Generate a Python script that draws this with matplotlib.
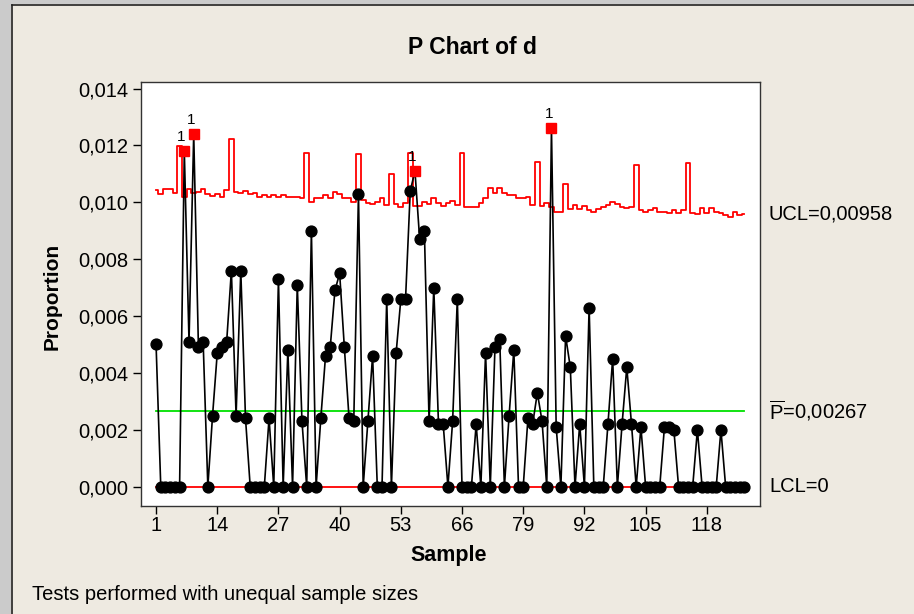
import numpy as np
import matplotlib
matplotlib.use('Agg')
import matplotlib.pyplot as plt
from matplotlib.ticker import FuncFormatter
from matplotlib.patches import Rectangle
from matplotlib.lines import Line2D
import matplotlib.transforms as mtransforms

# sample proportions (samples 1..126)
proportion = [
    0.0050, 0, 0, 0, 0, 0, 0.0118, 0.0051, 0.0124, 0.0049,
    0.0051, 0, 0.0025, 0.0047, 0.0049, 0.0051, 0.0076, 0.0025, 0.0076, 0.0024,
    0, 0, 0, 0, 0.0024, 0, 0.0073, 0, 0.0048, 0,
    0.0071, 0.0023, 0, 0.0090, 0, 0.0024, 0.0046, 0.0049, 0.0069, 0.0075,
    0.0049, 0.0024, 0.0023, 0.0103, 0, 0.0023, 0.0046, 0, 0, 0.0066,
    0, 0.0047, 0.0066, 0.0066, 0.0104, 0.0111, 0.0087, 0.0090, 0.0023, 0.0070,
    0.0022, 0.0022, 0, 0.0023, 0.0066, 0, 0, 0, 0.0022, 0,
    0.0047, 0, 0.0049, 0.0052, 0, 0.0025, 0.0048, 0, 0, 0.0024,
    0.0022, 0.0033, 0.0023, 0, 0.0126, 0.0021, 0, 0.0053, 0.0042, 0,
    0.0022, 0, 0.0063, 0, 0, 0, 0.0022, 0.0045, 0, 0.0022,
    0.0042, 0.0022, 0, 0.0021, 0, 0, 0, 0, 0.0021, 0.0021,
    0.0020, 0, 0, 0, 0, 0.0020, 0, 0, 0, 0,
    0.0020, 0, 0, 0, 0, 0,
]

# upper control limit per sample (unequal sample sizes -> stepped limit)
ucl = [
    0.01043, 0.01029, 0.01048, 0.01048, 0.01031, 0.01199, 0.01017, 0.01048, 0.01031, 0.01037,
    0.01048, 0.01029, 0.01022, 0.01029, 0.01019, 0.01043, 0.01221, 0.01036, 0.01031, 0.01040,
    0.01029, 0.01031, 0.01019, 0.01024, 0.01019, 0.01027, 0.01019, 0.01024, 0.01017, 0.01019,
    0.01019, 0.01015, 0.01172, 0.01001, 0.01014, 0.01014, 0.01025, 0.01014, 0.01035, 0.01029,
    0.01014, 0.01014, 0.01002, 0.01170, 0.01008, 0.00996, 0.00994, 0.01002, 0.01014, 0.00990,
    0.01101, 0.00994, 0.00982, 0.00996, 0.01174, 0.00987, 0.00987, 0.01002, 0.00994, 0.01014,
    0.00996, 0.00987, 0.00996, 0.01005, 0.00990, 0.01174, 0.00984, 0.00984, 0.00984, 0.00996,
    0.01016, 0.01049, 0.01033, 0.01049, 0.01033, 0.01025, 0.01025, 0.01014, 0.01014, 0.01017,
    0.00990, 0.01142, 0.00987, 0.00996, 0.00984, 0.00967, 0.00967, 0.01063, 0.00975, 0.00990,
    0.00975, 0.00987, 0.00973, 0.00967, 0.00975, 0.00984, 0.00990, 0.01002, 0.00994, 0.00984,
    0.00979, 0.00984, 0.01131, 0.00973, 0.00967, 0.00973, 0.00979, 0.00967, 0.00967, 0.00961,
    0.00973, 0.00961, 0.00973, 0.01137, 0.00961, 0.00958, 0.00979, 0.00961, 0.00979, 0.00965,
    0.00961, 0.00955, 0.00949, 0.00967, 0.00955, 0.00958,
]

p_bar = 0.00267
lcl = 0.0
ucl_label = 'UCL=0,00958'
pbar_label = r'$\overline{\mathrm{P}}$=0,00267'
lcl_label = 'LCL=0'

x_ticks = [1, 14, 27, 40, 53, 66, 79, 92, 105, 118]
y_ticks = [0.000, 0.002, 0.004, 0.006, 0.008, 0.010, 0.012, 0.014]

FONT = 'Liberation Sans'
BG = '#eeeae1'


def comma_fmt(v, pos):
    # Minitab with a european locale -> comma decimals
    return f'{v:.3f}'.replace('.', ',')


def plot_p_chart():
    plt.rcParams['font.family'] = FONT
    plt.rcParams['mathtext.fontset'] = 'custom'
    plt.rcParams['mathtext.rm'] = FONT

    samples = np.arange(1, len(proportion) + 1)
    p = np.array(proportion)
    limit = np.array(ucl)
    out = p > limit

    fig = plt.figure(figsize=(9.14, 6.14), dpi=100, facecolor=BG)

    # window-ish frame on the left / top
    fig.patches.append(Rectangle((0, 0), 11 / 914, 1, transform=fig.transFigure,
                                 facecolor='#cbcbcb', edgecolor='none', zorder=0))
    fig.patches.append(Rectangle((0, 1 - 4 / 614), 1, 4 / 614, transform=fig.transFigure,
                                 facecolor='#cbcbcb', edgecolor='none', zorder=0))
    fig.lines.append(Line2D([11.5 / 914, 11.5 / 914], [0, 1 - 4.5 / 614],
                            transform=fig.transFigure, color='#222222', lw=1.2))
    fig.lines.append(Line2D([11.5 / 914, 1], [1 - 4.5 / 614, 1 - 4.5 / 614],
                            transform=fig.transFigure, color='#222222', lw=1.2))

    ax = fig.add_axes([141 / 914, 1 - 506 / 614, (760 - 141) / 914, (506 - 82) / 614])
    ax.set_facecolor('white')

    # control limits
    ax.plot(samples, limit, color='#ff0000', lw=1.3, drawstyle='steps-mid', zorder=2)
    ax.plot([samples[0], samples[-1]], [lcl, lcl], color='#ff0000', lw=1.3, zorder=2)
    ax.plot([samples[0], samples[-1]], [p_bar, p_bar], color='#00e000', lw=1.3, zorder=2)

    # data
    ax.plot(samples, p, color='black', lw=1.2, zorder=3)
    ax.plot(samples[~out], p[~out], 'o', color='black', ms=7.8, zorder=4)
    ax.plot(samples[out], p[out], 's', color='#ff0000', ms=7.8, zorder=5)
    for s, v in zip(samples[out], p[out]):
        ax.annotate('1', (s, v), xytext=(-2, 5), textcoords='offset points',
                    ha='center', va='bottom', fontsize=11)

    ax.set_xlim(-2.2, 129.3)
    ax.set_ylim(-0.00068, 0.01423)
    ax.set_xticks(x_ticks)
    ax.set_yticks(y_ticks)
    ax.yaxis.set_major_formatter(FuncFormatter(comma_fmt))
    ax.tick_params(direction='out', length=6, width=1, labelsize=14.5, pad=3, colors='black')
    ax.tick_params(axis='x', pad=1.5)
    for sp in ax.spines.values():
        sp.set_color('#333333')
        sp.set_linewidth(1)

    # limit labels on the right
    trans = mtransforms.blended_transform_factory(ax.transAxes, ax.transData)
    ax.text(1.0145, limit[-1], ucl_label, transform=trans, ha='left', va='center', fontsize=14.5)
    ax.text(1.0145, p_bar, pbar_label, transform=trans, ha='left', va='center', fontsize=14.5)
    ax.text(1.0145, lcl, lcl_label, transform=trans, ha='left', va='center', fontsize=14.5)

    fig.text(472 / 914, 1 - 47 / 614, 'P Chart of d', ha='center', va='center',
             fontsize=16.5, fontweight='bold')
    fig.text(52 / 914, 1 - 296 / 614, 'Proportion', ha='center', va='center',
             rotation=90, fontsize=15, fontweight='bold')
    fig.text(449 / 914, 1 - 556 / 614, 'Sample', ha='center', va='center',
             fontsize=15.5, fontweight='bold')
    fig.text(32 / 914, 1 - 594 / 614, 'Tests performed with unequal sample sizes',
             ha='left', va='center', fontsize=14.5)

    fig.savefig('out.png', dpi=100, facecolor=BG)


if __name__ == '__main__':
    plot_p_chart()
